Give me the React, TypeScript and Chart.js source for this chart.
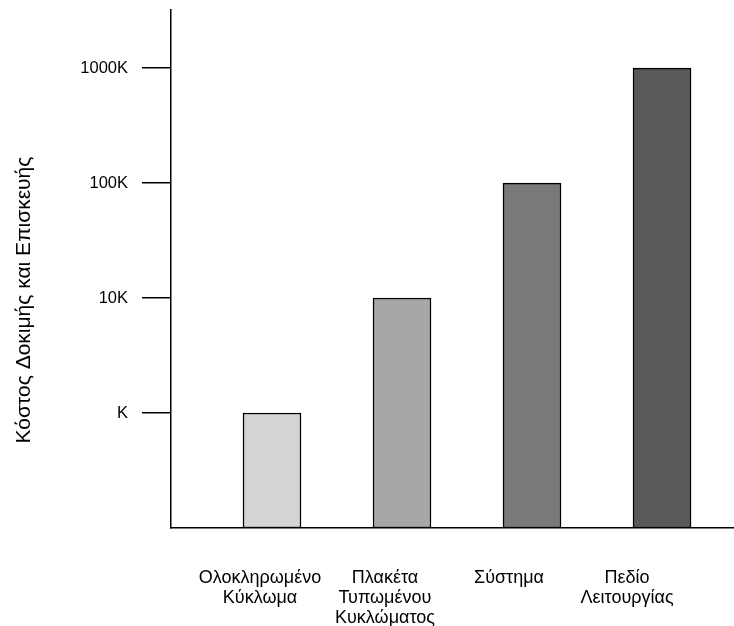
import React, { useEffect, useRef } from "react";
import { Chart, registerables } from "chart.js";

Chart.register(...registerables);

const categories: string[][] = [
  ["Ολοκληρωμένο", "Κύκλωμα"],
  ["Πλακέτα", "Τυπωμένου", "Κυκλώματος"],
  ["Σύστημα"],
  ["Πεδίο", "Λειτουργίας"],
];
const costs: number[] = [1000, 10000, 100000, 1000000];
const yTickValues: number[] = [1000, 10000, 100000, 1000000];
const yTickLabels: string[] = ["K", "10K", "100K", "1000K"];
const yTitle = "Κόστος Δοκιμής και Επισκευής";

// layout / style
const labelShift = [-0.092, -0.131, -0.177, -0.269]; // label anchor offset from bar centre (category units)
const barColors = ["#d4d4d4", "#a7a7a7", "#797979", "#5a5a5a"];
const FONT = "'Liberation Sans', Arial, Helvetica, sans-serif";

const yTitlePlugin = {
  id: "yTitlePlugin",
  afterDraw(chart: any) {
    const ctx = chart.ctx;
    ctx.save();
    ctx.translate(24, 300);
    ctx.rotate(-Math.PI / 2);
    ctx.fillStyle = "#000";
    ctx.font = `21px ${FONT}`;
    ctx.textAlign = "center";
    ctx.textBaseline = "middle";
    ctx.fillText(yTitle, 0, 0);
    ctx.restore();
  },
};

export default function App() {
  const ref = useRef<HTMLCanvasElement | null>(null);

  useEffect(() => {
    document.body.style.margin = "0";
    const canvas = ref.current;
    if (!canvas) return;
    const chart = new Chart(canvas, {
      type: "bar",
      data: {
        datasets: [
          {
            data: costs.map((v, i) => ({ x: i, y: v })),
            backgroundColor: barColors,
            borderColor: "#000",
            borderWidth: 1.5,
            borderSkipped: false,
            barThickness: 58,
          },
        ],
      },
      plugins: [yTitlePlugin],
      options: {
        responsive: false,
        animation: false,
        layout: { padding: { left: 0, right: 1, top: 10, bottom: 0 } },
        plugins: {
          legend: { display: false },
          tooltip: { enabled: false },
        },
        scales: {
          x: {
            type: "linear",
            offset: false,
            min: -0.777,
            max: 3.546,
            grid: { display: false },
            border: { display: true, color: "#000", width: 1.5 },
            afterBuildTicks: (scale: any) => {
              scale.ticks = categories.map((_, i) => ({ value: i + labelShift[i] }));
            },
            afterFit: (scale: any) => {
              scale.height = 98;
              scale.paddingLeft = 0;
              scale.paddingRight = 0;
            },
            ticks: {
              autoSkip: false,
              maxRotation: 0,
              minRotation: 0,
              padding: 32,
              color: "#000",
              font: { family: FONT, size: 18, lineHeight: 20 / 18 },
              callback: (_v: any, index: number) => categories[index] ?? "",
            },
          },
          y: {
            type: "logarithmic",
            min: 100,
            max: 3200000,
            grid: {
              display: true,
              drawOnChartArea: false,
              drawTicks: true,
              tickLength: 29,
              color: "#000",
              lineWidth: 1.5,
            },
            border: { display: true, color: "#000", width: 1.5 },
            afterBuildTicks: (scale: any) => {
              scale.ticks = yTickValues.map((v) => ({ value: v }));
            },
            afterFit: (scale: any) => {
              scale.width = 171;
              scale.paddingTop = 0;
              scale.paddingBottom = 0;
            },
            ticks: {
              autoSkip: false,
              padding: 14,
              color: "#000",
              font: { family: FONT, size: 16.5 },
              callback: (v: any) => {
                const idx = yTickValues.indexOf(Number(v));
                return idx >= 0 ? yTickLabels[idx] : "";
              },
            },
            title: { display: false },
          },
        },
      },
    });
    return () => chart.destroy();
  }, []);

  return (
    <div style={{ width: 734, height: 626, position: "relative" }}>
      <canvas ref={ref} width={734} height={626} />
    </div>
  );
}
